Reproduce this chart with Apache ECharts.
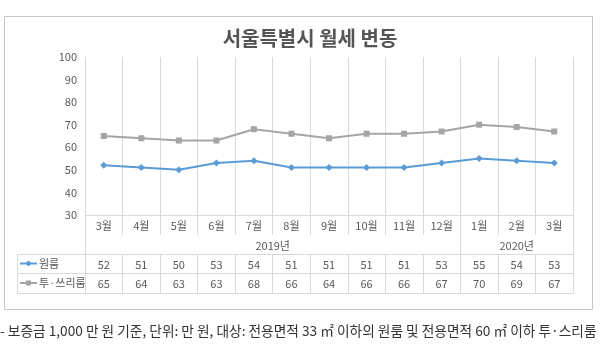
<!DOCTYPE html>
<html><head><meta charset="utf-8">
<script src="https://cdn.jsdelivr.net/npm/echarts@6/dist/echarts.min.js"></script>
<style>html,body{margin:0;padding:0;background:#fff}#c{width:600px;height:355px}</style>
</head><body><div id="c"></div>
<script>
const titleText = '서울특별시 월세 변동';
const months = ['3월','4월','5월','6월','7월','8월','9월','10월','11월','12월','1월','2월','3월'];
const years = [{label:'2019년', from:0, to:9},{label:'2020년', from:10, to:12}];
const seriesNames = ['원룸','투·쓰리룸'];
const oneRoom = [52,51,50,53,54,51,51,51,51,53,55,54,53];
const twoThreeRoom = [65,64,63,63,68,66,64,66,66,67,70,69,67];
const yTicks = [30,40,50,60,70,80,90,100];
const noteText = '- 보증금 1,000 만 원 기준, 단위: 만 원, 대상: 전용면적 33 ㎡ 이하의 원룸 및 전용면적 60 ㎡ 이하 투·스리룸';

const FONT = '"Noto Sans CJK KR", "Noto Sans", sans-serif';
const GRID = '#d9d9d9';
const TXT = '#595959';
const colors = ['#5B9BD5','#A5A5A5'];
const symbols = ['diamond','rect'];

const chart = echarts.init(document.getElementById('c'), null, {renderer:'canvas'});

function rowAxis(data, offset, showLabel){
  return {
    type:'category', data:data, position:'bottom', offset:offset, gridIndex:0,
    boundaryGap:true,
    axisLine:{show:true, lineStyle:{color:GRID, width:1}},
    axisTick:{show:true, length:20, interval:0, alignWithLabel:false, lineStyle:{color:GRID}},
    axisLabel:{show:showLabel, interval:0, margin:5, fontSize:11, color:TXT, fontFamily:FONT},
    splitLine:{show:false}
  };
}

const option = {
  animation:false,
  backgroundColor:'#fff',
  textStyle:{fontFamily:FONT},
  grid:{left:85, right:27, top:57, height:158, containLabel:false},
  xAxis:[
    {
      type:'category', data:months, boundaryGap:true,
      axisLine:{show:true, lineStyle:{color:GRID}},
      axisTick:{show:true, length:20, interval:0, lineStyle:{color:GRID}},
      axisLabel:{interval:0, margin:5, fontSize:11, color:TXT, fontFamily:FONT},
      splitLine:{show:true, interval:0, lineStyle:{color:GRID, width:1}}
    },
    rowAxis(oneRoom.map(String), 39, true),
    rowAxis(twoThreeRoom.map(String), 58, true),
    Object.assign(rowAxis(months, 78, false), {axisTick:{show:false}})
  ],
  yAxis:{
    type:'value', min:yTicks[0], max:yTicks[yTicks.length-1], interval:10,
    axisLine:{show:false}, axisTick:{show:false},
    axisLabel:{margin:8, fontSize:11, color:TXT, fontFamily:FONT},
    splitLine:{show:false}
  },
  series:[oneRoom, twoThreeRoom].map((d,i)=>({
    name:seriesNames[i], type:'line', data:d, xAxisIndex:0,
    symbol:symbols[i], symbolSize:i===0?7:6, showSymbol:true,
    lineStyle:{color:colors[i], width:2},
    itemStyle:{color:colors[i]}
  }))
};
chart.setOption(option);

// table extras via library coordinates
const px = i => chart.convertToPixel({xAxisIndex:0}, i);
const band = px(1) - px(0);
const left = px(0) - band/2;
const right = px(months.length-1) + band/2;
const yAxisBase = chart.convertToPixel({yAxisIndex:0}, yTicks[0]);
const rowTop = yAxisBase + 39, rowMid = yAxisBase + 58, rowBot = yAxisBase + 78;
const tableLeft = 17;
const g = [];
const line = (x1,y1,x2,y2)=>({type:'line', shape:{x1,y1,x2,y2}, style:{stroke:GRID, lineWidth:1}, silent:true});

// outer chart border
g.push({type:'rect', shape:{x:4.5, y:16.5, width:588, height:293}, style:{fill:null, stroke:'#c6c6c6', lineWidth:1}, silent:true});
// title
g.push({type:'text', x:310, y:38, style:{text:titleText, textAlign:'center', textVerticalAlign:'middle', font:'bold 20px '+FONT, fill:'#555'}});

// year row separators & labels
years.forEach(yr=>{
  const a = px(yr.from) - band/2, b = px(yr.to) + band/2;
  g.push(line(Math.round(a)+0.5, yAxisBase+20, Math.round(a)+0.5, rowTop));
  g.push(line(Math.round(b)+0.5, yAxisBase+20, Math.round(b)+0.5, rowTop));
  g.push({type:'text', x:(a+b)/2, y:yAxisBase+31, style:{text:yr.label, textAlign:'center', textVerticalAlign:'middle', font:'11px '+FONT, fill:TXT}});
});
// legend column
[rowTop, rowMid, rowBot].forEach(y=>g.push(line(tableLeft, Math.round(y)+0.5, left, Math.round(y)+0.5)));
g.push(line(tableLeft+0.5, rowTop, tableLeft+0.5, rowBot));
g.push(line(Math.round(left)+0.5, rowTop, Math.round(left)+0.5, rowBot));
seriesNames.forEach((nm,i)=>{
  const cy = (i===0 ? (rowTop+rowMid)/2 : (rowMid+rowBot)/2);
  g.push({type:'line', shape:{x1:20, y1:cy, x2:37, y2:cy}, style:{stroke:colors[i], lineWidth:2}, silent:true});
  if(i===0){
    g.push({type:'polygon', shape:{points:[[28.5,cy-3],[31.5,cy],[28.5,cy+3],[25.5,cy]]}, style:{fill:colors[i]}});
  } else {
    g.push({type:'rect', shape:{x:26, y:cy-2.5, width:5, height:5}, style:{fill:colors[i]}});
  }
  g.push({type:'text', x:39, y:cy, style:{text:nm, textAlign:'left', textVerticalAlign:'middle', font:'11px '+FONT, fill:TXT}});
});
// note
g.push({type:'text', x:0, y:331, style:{text:noteText, textAlign:'left', textVerticalAlign:'middle', font:'13.7px '+FONT, fill:'#333'}});

chart.setOption({graphic:g});
</script></body></html>
